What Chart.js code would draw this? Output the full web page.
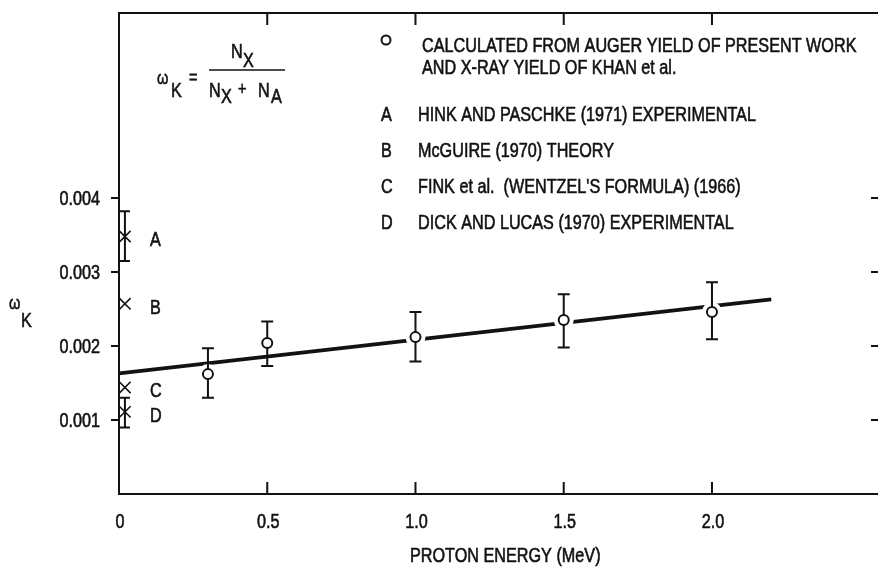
<!DOCTYPE html>
<html>
<head>
<meta charset="utf-8">
<script src="https://cdn.jsdelivr.net/npm/chart.js@4.4.1/dist/chart.umd.min.js"></script>
<style>
  html, body { margin: 0; padding: 0; background: #fff; }
  #wrap { width: 878px; height: 567px; }
</style>
</head>
<body>
<div id="wrap"><canvas id="omegaChart" width="878" height="567"></canvas></div>
<script>
// present work (circles) with error bars
const presentEnergy = [0.3, 0.5, 1.0, 1.5, 2.0];
const presentOmega = [0.00162, 0.00204, 0.00212, 0.00235, 0.00246];
const presentErrLow = [0.00130, 0.00173, 0.00179, 0.00198, 0.00209];
const presentErrHigh = [0.00197, 0.00233, 0.00246, 0.00270, 0.00286];

// straight-line fit through the circles
const fitEnergy = [0, 2.2];
const fitOmega = [0.00163, 0.00263];

// other works (crosses) A-D
const refKeys = ["A", "B", "C", "D"];
const refEnergy = [0.02, 0.02, 0.02, 0.02];
const refOmega = [0.00348, 0.00257, 0.00144, 0.00111];
const refErrLow = [0.00315, null, null, 0.00090];
const refErrHigh = [0.00382, null, null, 0.00130];

// legend
const legendKeys = ["o", "", "A", "B", "C", "D"];
const legendTexts = [
  "CALCULATED FROM AUGER YIELD OF PRESENT WORK",
  "AND X-RAY YIELD OF KHAN et al.",
  "HINK AND PASCHKE (1971) EXPERIMENTAL",
  "McGUIRE (1970) THEORY",
  "FINK et al.  (WENTZEL'S FORMULA) (1966)",
  "DICK AND LUCAS (1970) EXPERIMENTAL",
];

// axes
const xTicks = [0, 0.5, 1.0, 1.5, 2.0];
const xTickLabels = ["0", "0.5", "1.0", "1.5", "2.0"];
const yTicks = [0.001, 0.002, 0.003, 0.004];
const yTickLabels = ["0.001", "0.002", "0.003", "0.004"];
const xTitle = "PROTON ENERGY (MeV)";

const FONT = '"Liberation Sans", Arial, sans-serif';
const NARROW = 0.81;   // squeeze Liberation Sans to look like a narrow face
const INK = "#121212";

function put(ctx, s, x, y, size, align) {
  ctx.save();
  ctx.font = size + "px " + FONT;
  ctx.textAlign = align || "left";
  ctx.textBaseline = "alphabetic";
  ctx.translate(x, y);
  ctx.scale(NARROW, 1);
  ctx.fillText(s, 0, 0);
  ctx.lineWidth = 0.6;   // a little heavier, like the printed original
  ctx.strokeText(s, 0, 0);
  ctx.restore();
}

function errorBar(ctx, x, yLo, yHi, half) {
  ctx.beginPath();
  ctx.moveTo(x, yLo); ctx.lineTo(x, yHi);
  ctx.moveTo(x - half, yLo); ctx.lineTo(x + half, yLo);
  ctx.moveTo(x - half, yHi); ctx.lineTo(x + half, yHi);
  ctx.stroke();
}

const annotations = {
  id: "annotations",
  // error bars of the circles go on top of the white halo, under the circles
  afterDatasetDraw(chart, args) {
    if (args.index !== 1) return;
    const { ctx, scales: { x, y } } = chart;
    ctx.save();
    ctx.strokeStyle = INK;
    ctx.lineWidth = 2;
    presentEnergy.forEach((e, i) => {
      errorBar(ctx, x.getPixelForValue(e), y.getPixelForValue(presentErrLow[i]),
        y.getPixelForValue(presentErrHigh[i]), 6);
    });
    ctx.restore();
  },
  afterDraw(chart) {
    const { ctx, chartArea: a, scales: { x, y } } = chart;
    ctx.save();
    ctx.strokeStyle = INK;
    ctx.fillStyle = INK;

    // top frame line
    ctx.lineWidth = 2;
    ctx.beginPath();
    ctx.moveTo(a.left - 1, a.top); ctx.lineTo(a.right, a.top);
    ctx.stroke();

    // inward ticks: top, bottom, right
    xTicks.slice(1).forEach((v) => {
      const px = x.getPixelForValue(v);
      ctx.beginPath();
      ctx.moveTo(px, a.top); ctx.lineTo(px, a.top + 12);
      ctx.moveTo(px, a.bottom); ctx.lineTo(px, a.bottom - 12);
      ctx.stroke();
    });
    yTicks.forEach((v) => {
      const py = y.getPixelForValue(v);
      ctx.beginPath();
      ctx.moveTo(a.right, py); ctx.lineTo(a.right - 7, py);
      ctx.stroke();
    });

    // tick labels
    xTicks.forEach((v, i) => put(ctx, xTickLabels[i], x.getPixelForValue(v) + 1, a.bottom + 34, 20, "center"));
    yTicks.forEach((v, i) => put(ctx, yTickLabels[i], a.left - 19, y.getPixelForValue(v) + 7, 20, "right"));

    // error bars of A and D, letters beside the crosses
    ctx.lineWidth = 2;
    refKeys.forEach((k, i) => {
      const px = x.getPixelForValue(refEnergy[i]);
      const py = y.getPixelForValue(refOmega[i]);
      if (refErrLow[i] !== null) {
        errorBar(ctx, px, y.getPixelForValue(refErrLow[i]), y.getPixelForValue(refErrHigh[i]), 5);
      }
      put(ctx, k, px + 25, py + 10, 20);
    });

    // legend
    const rowY = [52, 74, 121, 157, 193, 229];
    legendTexts.forEach((t, i) => {
      const key = legendKeys[i];
      if (key === "o") {
        ctx.lineWidth = 2;
        ctx.beginPath();
        ctx.arc(386, rowY[i] - 12, 4.5, 0, Math.PI * 2);
        ctx.stroke();
      } else if (key) {
        put(ctx, key, 381, rowY[i], 20);
      }
      put(ctx, t, i < 2 ? 422 : 418, rowY[i], 20);
    });

    // formula  wK = NX / (NX + NA)
    put(ctx, "\u03c9", 157, 84, 18);
    put(ctx, "K", 171, 97, 20);
    put(ctx, "=", 189, 83, 18);
    ctx.lineWidth = 1.6;
    ctx.beginPath();
    ctx.moveTo(209, 70); ctx.lineTo(285, 70);
    ctx.stroke();
    put(ctx, "N", 231, 58, 20);
    put(ctx, "X", 243, 67, 20);
    put(ctx, "N", 209, 97, 20);
    put(ctx, "X", 221, 103, 20);
    put(ctx, "+", 238, 95, 18);
    put(ctx, "N", 258, 97, 20);
    put(ctx, "A", 271, 103, 20);

    // axis titles
    put(ctx, "\u03c9", 9, 309, 18);
    put(ctx, "K", 21, 327, 20);
    put(ctx, xTitle, 410, 562, 20);

    ctx.restore();
  },
};

const presentPts = presentEnergy.map((e, i) => ({ x: e, y: presentOmega[i] }));
const refPts = refEnergy.map((e, i) => ({ x: e, y: refOmega[i] }));
const fitPts = fitEnergy.map((e, i) => ({ x: e, y: fitOmega[i] }));

new Chart(document.getElementById("omegaChart").getContext("2d"), {
  type: "scatter",
  data: {
    datasets: [
      {
        label: "fit", type: "line", data: fitPts,
        borderColor: INK, borderWidth: 3.6, pointRadius: 0, fill: false, order: 4, clip: false,
      },
      {
        label: "halo", data: presentPts,
        pointRadius: 10, pointBackgroundColor: "#fff", pointBorderColor: "#fff", pointBorderWidth: 0, order: 3,
      },
      {
        label: "present", data: presentPts,
        pointRadius: 5, pointBackgroundColor: "#fff", pointBorderColor: INK, pointBorderWidth: 2, order: 1,
      },
      {
        label: "others", data: refPts, pointStyle: "crossRot",
        pointRadius: 8, pointBorderColor: INK, pointBorderWidth: 1.6, order: 0, clip: false,
      },
    ],
  },
  options: {
    responsive: false,
    animation: false,
    devicePixelRatio: 1,
    events: [],
    layout: { autoPadding: false, padding: { top: 13, right: 0, left: 0, bottom: 0 } },
    plugins: { legend: { display: false }, tooltip: { enabled: false } },
    scales: {
      x: {
        type: "linear", min: 0, max: 2.56,
        afterBuildTicks: (s) => { s.ticks = xTicks.map((v) => ({ value: v })); },
        afterFit: (s) => { s.height = 73; },
        ticks: { display: false },
        grid: { display: false, drawTicks: false },
        border: { display: true, color: INK, width: 2 },
      },
      y: {
        type: "linear", min: 0, max: 0.0065,
        afterBuildTicks: (s) => { s.ticks = yTicks.map((v) => ({ value: v })); },
        afterFit: (s) => { s.width = 119; },
        ticks: { display: false },
        grid: { drawOnChartArea: false, drawTicks: true, tickLength: 8, color: INK, lineWidth: 2 },
        border: { display: true, color: INK, width: 2 },
      },
    },
  },
  plugins: [annotations],
});
</script>
</body>
</html>
